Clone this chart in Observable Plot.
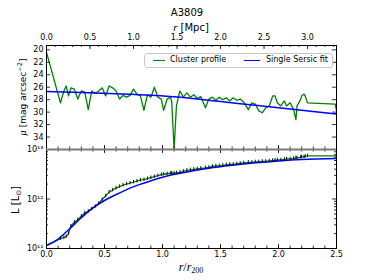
<!DOCTYPE html>
<html><head><meta charset="utf-8">
<script src="https://cdn.jsdelivr.net/npm/d3@7"></script>
<script src="https://cdn.jsdelivr.net/npm/@observablehq/plot@0.6"></script>
<style>
body{margin:0;background:#fff;font-family:"DejaVu Sans",sans-serif;}
#wrap{position:relative;width:374px;height:280px;overflow:hidden;background:#fff;}
#wrap svg{position:absolute;left:0;}
.abs{position:absolute;white-space:nowrap;color:#000;line-height:1;}
.m{font-family:"Liberation Serif","DejaVu Serif",serif;font-style:italic;}
</style></head><body><div id="wrap"></div>
<script>
// ---- data ----
const rad  = [0.00,0.12,0.15,0.17,0.19,0.21,0.24,0.27,0.30,0.33,0.36,0.39,0.42,0.45,0.48,0.51,0.54,0.57,0.60,0.63,0.66,0.69,0.72,0.75,0.78,0.81,0.84,0.87,0.90,0.93,0.96,0.99,1.01,1.04,1.07,1.08,1.10,1.12,1.15,1.18,1.21,1.24,1.27,1.30,1.33,1.37,1.40,1.43,1.46,1.49,1.52,1.55,1.58,1.61,1.64,1.67,1.70,1.74,1.77,1.80,1.83,1.86,1.89,1.92,1.95,1.97,1.99,2.02,2.05,2.07,2.10,2.13,2.15,2.16,2.19,2.20,2.22,2.23,2.25,2.49,2.50];
const mu   = [20.4,28.5,26.6,25.8,27.4,26.1,26.3,27.9,26.6,26.8,29.6,26.6,27.0,26.6,26.1,27.4,25.8,26.1,26.6,27.9,27.3,27.6,27.3,26.3,27.1,27.4,29.7,27.2,27.6,26.0,27.6,27.9,29.7,27.9,27.6,28.4,36.0,29.0,26.6,27.6,26.9,27.6,27.2,27.8,27.5,29.3,27.9,27.6,28.1,27.6,28.0,27.7,28.2,27.7,28.1,27.9,28.4,29.6,28.5,28.7,29.8,30.1,29.3,29.0,27.4,27.4,28.5,29.0,28.2,29.0,28.5,29.6,31.2,29.0,28.0,27.4,27.1,27.4,28.5,28.7,29.8];
const logL = [11.06,11.20,11.22,11.24,11.30,11.45,11.53,11.58,11.65,11.72,11.75,11.80,11.85,11.91,11.99,12.06,12.14,12.18,12.22,12.25,12.28,12.30,12.32,12.34,12.36,12.38,12.39,12.41,12.43,12.45,12.47,12.49,12.50,12.51,12.52,12.52,12.52,12.53,12.54,12.56,12.58,12.59,12.60,12.61,12.62,12.63,12.64,12.66,12.67,12.67,12.68,12.69,12.70,12.70,12.71,12.72,12.73,12.74,12.74,12.75,12.75,12.76,12.76,12.77,12.78,12.78,12.79,12.79,12.80,12.81,12.81,12.82,12.83,12.83,12.84,12.85,12.85,12.86,12.87,12.87,12.88];
const errDex = 0.035;
const fitMuRad = [0.0,0.3,0.6,0.9,1.2,1.5,1.8,2.1,2.5];
const fitMu    = [26.7,26.85,27.05,27.3,27.7,28.3,28.9,29.5,30.3];
const fitLRad  = [0,0.1,0.2,0.3,0.4,0.5,0.6,0.7,0.8,0.9,1.0,1.2,1.4,1.6,1.8,2.0,2.2,2.5];
const fitLogL  = [11.06,11.19,11.40,11.62,11.82,11.97,12.09,12.20,12.29,12.37,12.44,12.54,12.62,12.68,12.73,12.77,12.80,12.82];
const xTicks   = [0,0.5,1,1.5,2,2.5];
const mpcTicks = [0,0.5,1,1.5,2,2.5,3];
const r200     = 1.333; // Mpc
const muTicks  = [20,22,24,26,28,30,32,34];
const lTicks   = [1e11,1e12,1e13];

const profile = rad.map((r,i)=>({r, mu:mu[i], L:10**logL[i], lo:10**(logL[i]-errDex), hi:10**(logL[i]+errDex)}));
const fitTop = fitMuRad.map((r,i)=>({r, mu:fitMu[i]}));
const fitBot = fitLRad.map((r,i)=>({r, L:10**fitLogL[i]}));

const W=374, ML=46, MR=38, FW=W-ML-MR;
const GREEN="#008000", BLUE="#0000ff";
const sty={fontFamily:"DejaVu Sans",fontSize:"8px",background:"transparent",overflow:"visible",color:"#000"};
const xMinor = d3.range(0,2.501,0.1);
const mpcMinor = d3.range(0,3.31,0.1).map(m=>m/r200);
const sup = {11:"¹¹",12:"¹²",13:"¹³"};

// top panel
const TH=150, TMT=45, TMB=1, TFH=TH-TMT-TMB;
const topPlot = Plot.plot({
  width:W, height:TH, marginTop:TMT, marginBottom:TMB, marginLeft:ML, marginRight:MR,
  style:sty,
  x:{domain:[0,2.5], axis:null},
  y:{domain:[36,19.3]},
  marks:[
    Plot.line(profile,{x:"r",y:"mu",stroke:GREEN,strokeWidth:1.3}),
    Plot.line(fitTop,{x:"r",y:"mu",stroke:BLUE,strokeWidth:1.5,curve:"monotone-x"}),
    // inward ticks
    Plot.ruleX(mpcMinor,{x:d=>d,insetBottom:TFH-2,stroke:"#000",strokeWidth:0.8}),
    Plot.ruleX(mpcTicks.map(m=>m/r200),{x:d=>d,insetBottom:TFH-4,stroke:"#000",strokeWidth:0.8}),
    Plot.ruleX(xMinor,{x:d=>d,insetTop:TFH-2.5,stroke:"#000",strokeWidth:0.8}),
    Plot.ruleX(xTicks,{x:d=>d,insetTop:TFH-4,stroke:"#000",strokeWidth:0.8}),
    Plot.ruleY(muTicks,{y:d=>d,insetRight:FW-4,stroke:"#000",strokeWidth:0.8}),
    Plot.ruleY(muTicks,{y:d=>d,insetLeft:FW-4,stroke:"#000",strokeWidth:0.8}),
    Plot.text(mpcTicks,{x:d=>d/r200,y:19.3,text:d=>d.toFixed(1),lineAnchor:"top",dy:-11,fontSize:8,fill:"#000"}),
    Plot.axisY(muTicks,{anchor:"left",tickSize:0,tickPadding:3,label:null}),
    Plot.frame({stroke:"#000",strokeWidth:1})
  ]
});

// bottom panel
const BH=132, BMT=1, BMB=32, BFH=BH-BMT-BMB;
const lMinor=[];
for (const e of [11,12]) for (let k=2;k<=9;k++) lMinor.push(k*10**e);
const botPlot = Plot.plot({
  width:W, height:BH, marginTop:BMT, marginBottom:BMB, marginLeft:ML, marginRight:MR,
  style:sty,
  x:{domain:[0,2.5]},
  y:{type:"log",domain:[1e11,1e13]},
  marks:[
    Plot.line(profile,{x:"r",y:"L",stroke:GREEN,strokeWidth:1.3}),
    Plot.line(fitBot,{x:"r",y:"L",stroke:BLUE,strokeWidth:1.5,curve:"monotone-x"}),
    Plot.ruleX(profile.slice(1,-2),{x:"r",y1:"lo",y2:"hi",stroke:"#000",strokeWidth:0.9}),
    Plot.ruleX(xMinor,{x:d=>d,insetTop:BFH-2.5,stroke:"#000",strokeWidth:0.8}),
    Plot.ruleX(xTicks,{x:d=>d,insetTop:BFH-4,stroke:"#000",strokeWidth:0.8}),
    Plot.ruleX(xMinor,{x:d=>d,insetBottom:BFH-2.5,stroke:"#000",strokeWidth:0.8}),
    Plot.ruleX(xTicks,{x:d=>d,insetBottom:BFH-4,stroke:"#000",strokeWidth:0.8}),
    Plot.ruleY(lMinor,{y:d=>d,insetRight:FW-2,stroke:"#000",strokeWidth:0.8}),
    Plot.ruleY(lMinor,{y:d=>d,insetLeft:FW-2,stroke:"#000",strokeWidth:0.8}),
    Plot.ruleY(lTicks,{y:d=>d,insetRight:FW-4,stroke:"#000",strokeWidth:0.8}),
    Plot.ruleY(lTicks,{y:d=>d,insetLeft:FW-4,stroke:"#000",strokeWidth:0.8}),
    Plot.axisX(xTicks,{anchor:"bottom",tickSize:0,tickPadding:3,tickFormat:d=>d.toFixed(1),label:null}),
    Plot.axisY(lTicks,{anchor:"left",tickSize:0,tickPadding:3,tickFormat:d=>"10"+sup[Math.round(Math.log10(d))],label:null}),
    Plot.frame({stroke:"#000",strokeWidth:1}),
    Plot.ruleY([1e13],{stroke:"#7a7a7a",strokeWidth:2.2})
  ]
});

const wrap=document.getElementById("wrap");
topPlot.style.top="0px";
botPlot.style.top=(TH-TMB-BMT)+"px";
wrap.appendChild(topPlot);
wrap.appendChild(botPlot);

function addDiv(html, css){
  const d=document.createElement("div");
  d.className="abs"; d.innerHTML=html; Object.assign(d.style,css); wrap.appendChild(d); return d;
}
// title and axis labels
addDiv("A3809",{left:"0px",width:"374px",textAlign:"center",top:"8px",fontSize:"10px"});
addDiv('<span class="m" style="font-size:11px">r</span> <span style="font-size:10px">[Mpc]</span>',{left:"0px",width:"382px",textAlign:"center",top:"22px",fontSize:"10px"});
addDiv('<span class="m" style="font-size:12px">r</span><span class="m" style="font-size:12px;font-style:normal">/</span><span class="m" style="font-size:12px">r</span><span style="font-family:Liberation Serif,serif;font-size:8px;position:relative;top:2px">200</span>',{left:"0px",width:"382px",textAlign:"center",top:"261px",fontSize:"12px"});
addDiv('<span class="m" style="font-size:10px">μ</span> <span style="font-size:9px">[mag arcsec<span style="font-size:6.5px;position:relative;top:-4px">−2</span>]</span>',{left:"23px",top:"97px",fontSize:"10px",transform:"translate(-50%,-50%) rotate(-90deg)"});
addDiv('<span style="font-size:10px">L [L<span style="font-size:7px;position:relative;top:2px">⊙</span>]</span>',{left:"16px",top:"200px",fontSize:"10px",transform:"translate(-50%,-50%) rotate(-90deg)"});

// legend
addDiv(
 '<div style="position:absolute;left:8px;top:6px;width:12px;height:0;border-top:1.4px solid '+GREEN+'"></div>'+
 '<div style="position:absolute;left:25px;top:2px;font-size:8px">Cluster profile</div>'+
 '<div style="position:absolute;left:99px;top:6px;width:16px;height:0;border-top:1.5px solid '+BLUE+'"></div>'+
 '<div style="position:absolute;left:121px;top:2px;font-size:8px">Single Sersic fit</div>',
 {left:"144px",top:"52.5px",width:"187px",height:"13px",border:"1px solid #c8c8c8",borderRadius:"3px",background:"rgba(255,255,255,0.85)"});
</script></body></html>
